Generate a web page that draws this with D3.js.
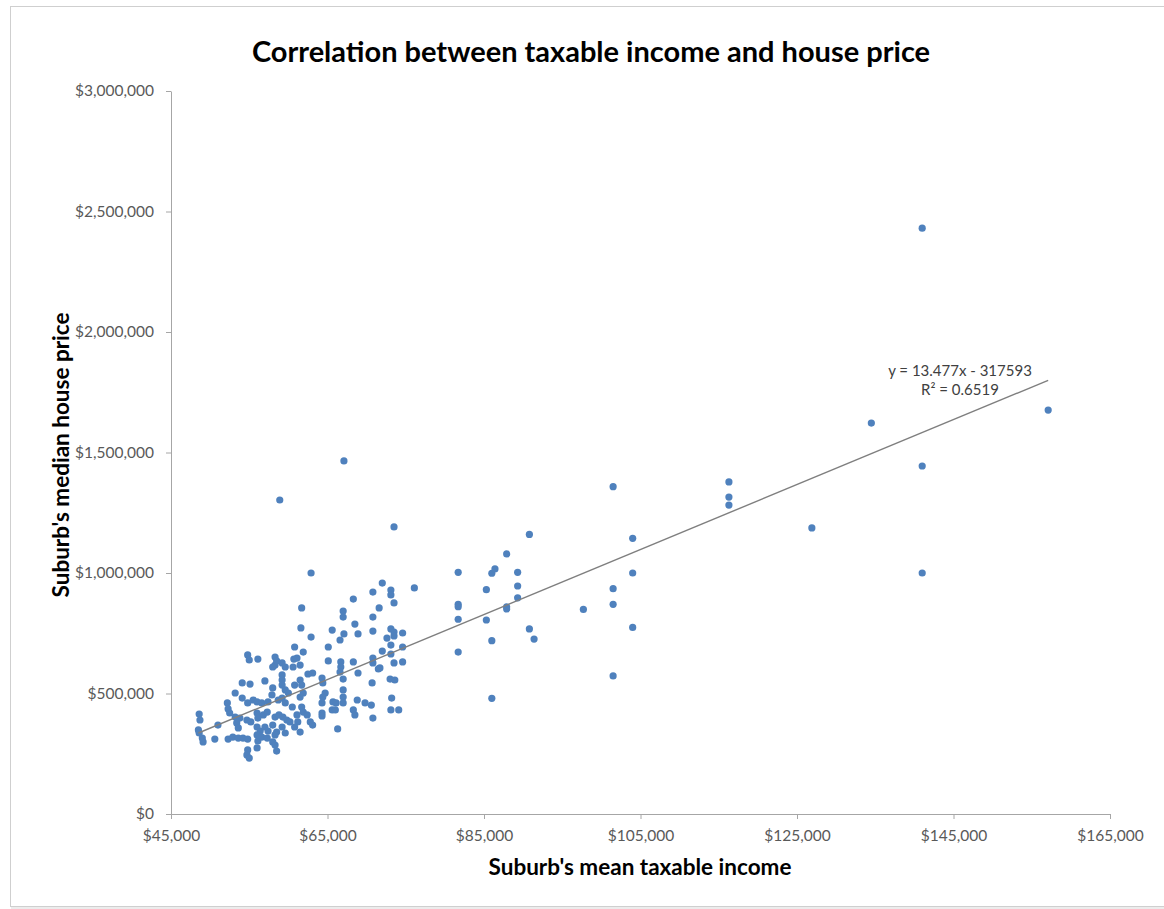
<!DOCTYPE html>
<html>
<head>
<meta charset="utf-8">
<script src="https://cdn.jsdelivr.net/npm/d3@7"></script>
<style>
  body { margin: 0; background: #fff; }
  svg { display: block; }
  .axis path, .axis line { stroke: #a6a6a6; }
  .axis text { fill: #595959; font-family: Lato, "Open Sans", sans-serif; font-size: 15.5px; }
</style>
</head>
<body>
<svg id="chart"></svg>
<script>
// Suburb's mean taxable income, thousands of dollars
const incomeK = [
  48.6, 48.7, 48.5, 49.0, 48.6, 49.1, 50.6, 51.0, 52.2, 52.3, 52.5, 53.2, 53.2, 53.8, 54.1, 54.1,
  55.1, 54.8, 55.5, 52.3, 52.9, 53.6, 54.2, 54.8, 53.4, 53.6, 54.7, 55.2, 54.8, 54.7, 55.0, 54.8,
  55.0, 56.1, 57.0, 56.0, 56.6, 57.4, 57.9, 56.0, 56.1, 56.8, 57.3, 56.0, 56.4, 57.0, 57.4, 56.0,
  56.1, 56.6, 57.3, 56.0, 58.0, 58.0, 58.5, 58.3, 58.8, 59.3, 58.7, 59.2, 58.3, 59.2, 58.3, 58.5,
  58.0, 59.6, 59.2, 59.2, 59.2, 59.6, 60.0, 59.6, 60.5, 59.2, 59.6, 58.3, 58.0, 59.8, 60.2, 58.3,
  58.5, 60.8, 61.5, 60.6, 61.5, 60.7, 61.1, 60.8, 61.9, 61.7, 61.6, 58.9, 61.1, 61.2, 60.8, 61.5,
  61.5, 61.7, 61.9,
  73.5, 62.9, 72.0, 73.1, 73.1, 73.5, 76.1, 68.3, 70.8, 67.0, 67.0, 71.6, 70.8, 68.5, 65.6, 67.1,
  66.6, 68.9, 70.8, 73.1, 73.5, 73.5, 74.6, 62.9, 72.6, 73.1, 74.6, 65.1, 72.0, 73.1, 65.1, 66.7,
  66.7, 68.3, 70.8, 70.8, 73.5, 74.6, 71.7, 61.7, 63.1, 62.5, 64.3, 64.4, 61.9, 64.7, 64.4, 64.3,
  67.0, 67.0, 66.6, 68.9, 70.7, 67.0, 67.0, 65.7, 66.1, 65.6, 66.0, 64.3, 64.3, 68.8, 69.8, 70.6,
  68.3, 68.5, 70.8, 66.3, 71.5, 73.0, 73.6, 73.2, 73.1, 74.1, 62.4, 62.8, 63.1, 67.1,
  81.7, 81.7, 81.7, 81.7, 81.7, 85.3, 85.3, 86.0, 86.4, 86.0, 86.0, 87.9, 87.9, 87.9, 89.3, 89.3,
  89.3, 90.8, 90.8, 91.4, 97.7, 101.5, 101.5, 101.5, 101.5, 104.0, 104.0, 104.0, 116.3, 116.3, 116.3,
  126.9, 134.5, 141.0, 141.0, 141.0, 157.1
];

// Suburb's median house price, thousands of dollars
const priceK = [
  415, 390, 349, 315, 336, 299, 311, 369, 461, 436, 419, 502, 402, 398, 544, 481,
  539, 461, 473, 311, 319, 315, 315, 311, 378, 357, 390, 382, 266, 245, 232, 660,
  639, 643, 552, 465, 461, 465, 494, 419, 398, 411, 423, 361, 344, 361, 344, 328,
  303, 319, 315, 274, 523, 369, 340, 402, 411, 402, 473, 481, 618, 627, 651, 635,
  610, 610, 577, 556, 535, 515, 502, 461, 444, 361, 336, 328, 299, 390, 382, 286,
  261, 535, 556, 610, 618, 643, 647, 693, 672, 855, 772, 1303, 411, 382, 361, 340,
  485, 444, 423,
  1191, 1000, 958, 929, 909, 876, 938, 892, 921, 842, 817, 855, 817, 788, 763, 747,
  722, 747, 759, 768, 755, 739, 751, 734, 730, 701, 693, 693, 676, 664, 635, 631,
  610, 631, 647, 627, 627, 631, 606, 535, 585, 581, 564, 544, 502, 502, 485, 461,
  560, 515, 589, 585, 544, 485, 461, 465, 461, 432, 432, 419, 407, 473, 461, 452,
  432, 411, 398, 353, 602, 560, 556, 481, 432, 432, 411, 382, 369, 1465,
  1003, 870, 860, 808, 672, 931, 805, 999, 1017, 719, 480, 1079, 860, 851, 1003, 946,
  897, 1160, 768, 726, 849, 1358, 935, 870, 573, 1144, 1000, 774, 1378, 1315, 1282,
  1187, 1622, 2431, 1444, 1000, 1676
];

// Linear trendline reported on the chart
const trendSlope = 13.477;
const trendIntercept = -317593;
const trendLabels = ['y = 13.477x - 317593', 'R\u00B2 = 0.6519'];

const xTicks = [45000, 65000, 85000, 105000, 125000, 145000, 165000];
const yTicks = [0, 500000, 1000000, 1500000, 2000000, 2500000, 3000000];

const chartTitle = 'Correlation between taxable income and house price';
const xTitle = "Suburb's mean taxable income";
const yTitle = "Suburb's median house price";

// Layout
const width = 1164, height = 909;
const plot = { left: 171, right: 1110, top: 91, bottom: 814 };
const font = 'Lato, "Open Sans", sans-serif';

const points = incomeK.map((v, i) => ({ income: v * 1000, price: priceK[i] * 1000 }));

const svg = d3.select('#chart')
    .attr('width', width)
    .attr('height', height);

// Chart frame with a soft shadow
svg.append('rect')
    .attr('x', 12.5).attr('y', 8.5)
    .attr('width', width + 20).attr('height', 899)
    .attr('fill', 'none')
    .attr('stroke', '#ececec')
    .attr('stroke-width', 3);
svg.append('rect')
    .attr('x', 10.5).attr('y', 6.5)
    .attr('width', width + 20).attr('height', 900)
    .attr('fill', '#fff')
    .attr('stroke', '#cfcfcf');

const x = d3.scaleLinear()
    .domain([xTicks[0], xTicks[xTicks.length - 1]])
    .range([plot.left, plot.right]);

const y = d3.scaleLinear()
    .domain([yTicks[0], yTicks[yTicks.length - 1]])
    .range([plot.bottom, plot.top]);

const money = d3.format('$,');

// Axes
svg.append('g')
    .attr('class', 'axis x-axis')
    .attr('transform', `translate(0, ${plot.bottom})`)
    .call(d3.axisBottom(x).tickValues(xTicks).tickFormat(money)
        .tickSizeInner(5).tickSizeOuter(0).tickPadding(11));

svg.append('g')
    .attr('class', 'axis y-axis')
    .attr('transform', `translate(${plot.left}, 0)`)
    .call(d3.axisLeft(y).tickValues(yTicks).tickFormat(money)
        .tickSizeInner(5).tickSizeOuter(0).tickPadding(12));

// Scatter points
svg.append('g')
    .selectAll('circle')
    .data(points)
    .enter()
    .append('circle')
    .attr('cx', d => x(d.income))
    .attr('cy', d => y(d.price))
    .attr('r', 3.6)
    .attr('fill', '#4f81bd');

// Trendline over the data range
const xExtent = d3.extent(points, d => d.income);
svg.append('line')
    .attr('x1', x(xExtent[0]))
    .attr('y1', y(trendSlope * xExtent[0] + trendIntercept))
    .attr('x2', x(xExtent[1]))
    .attr('y2', y(trendSlope * xExtent[1] + trendIntercept))
    .attr('stroke', '#7f7f7f')
    .attr('stroke-width', 1.4);

// Trendline equation
svg.append('g')
    .selectAll('text')
    .data(trendLabels)
    .enter()
    .append('text')
    .attr('x', 960)
    .attr('y', (d, i) => 376 + i * 19)
    .attr('text-anchor', 'middle')
    .style('font-family', font)
    .style('font-size', '15px')
    .style('fill', '#404040')
    .text(d => d);

// Titles
svg.append('text')
    .attr('x', 591).attr('y', 62)
    .attr('text-anchor', 'middle')
    .style('font-family', font)
    .style('font-weight', 'bold')
    .style('font-size', '29px')
    .style('fill', '#000')
    .text(chartTitle);

svg.append('text')
    .attr('x', 640).attr('y', 875)
    .attr('text-anchor', 'middle')
    .style('font-family', font)
    .style('font-weight', 'bold')
    .style('font-size', '22.5px')
    .style('fill', '#000')
    .text(xTitle);

svg.append('text')
    .attr('transform', 'translate(69, 455) rotate(-90)')
    .attr('text-anchor', 'middle')
    .style('font-family', font)
    .style('font-weight', 'bold')
    .style('font-size', '22.5px')
    .style('fill', '#000')
    .text(yTitle);
</script>
</body>
</html>
